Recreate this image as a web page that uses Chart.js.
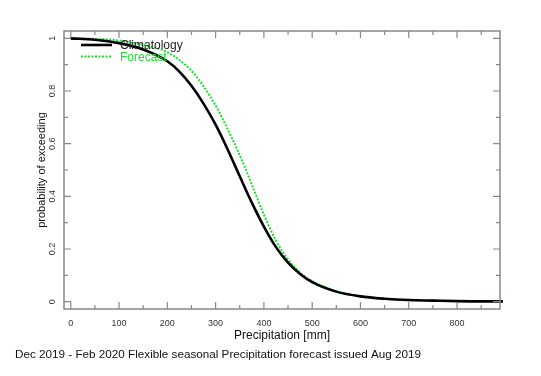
<!DOCTYPE html>
<html lang="en">
<head>
    <meta charset="UTF-8">
    <title>Probability of exceeding</title>
    <script src="https://cdn.jsdelivr.net/npm/chart.js"></script>
    <style>
        html, body {
            margin: 0;
            padding: 0;
            background: #ffffff;
        }
        canvas {
            display: block;
        }
    </style>
</head>
<body>

<canvas id="myChart" width="541" height="376"></canvas>

<script>
    // precipitation (mm)
    const precip = [0, 50, 100, 150, 200, 225, 250, 275, 300, 325, 350, 375, 400, 425, 450, 475, 500, 550, 600, 650, 700, 750, 800, 850, 895];
    const climatology = [1.0, 0.995, 0.982, 0.958, 0.913, 0.874, 0.820, 0.752, 0.672, 0.578, 0.476, 0.376, 0.285, 0.207, 0.148, 0.105, 0.074, 0.038, 0.020, 0.011, 0.006, 0.004, 0.002, 0.001, 0.001];
    const forecast = [1.0, 0.998, 0.992, 0.975, 0.948, 0.918, 0.877, 0.818, 0.745, 0.655, 0.556, 0.445, 0.330, 0.232, 0.160, 0.110, 0.078, 0.039, 0.020, 0.011, 0.006, 0.004, 0.002, 0.001, 0.001];

    // ticks
    const xTicks = [0, 100, 200, 300, 400, 500, 600, 700, 800];
    const xMinor = [50, 150, 250, 350, 450, 550, 650, 750, 850];
    const yTicks = [0, 0.2, 0.4, 0.6, 0.8, 1];
    const yMinor = [0.1, 0.3, 0.5, 0.7, 0.9];

    const caption = 'Dec 2019 - Feb 2020 Flexible seasonal Precipitation forecast issued Aug 2019';
    const frameColor = '#888888';
    const green = '#19e02a';

    // frame, inward ticks, rotated y labels and the legend inside the plot
    const framePlugin = {
        id: 'framePlugin',
        afterDatasetsDraw(chart) {
            const ctx = chart.ctx;
            const a = chart.chartArea;
            const xs = chart.scales.x;
            const ys = chart.scales.y;
            ctx.save();
            ctx.strokeStyle = frameColor;
            ctx.lineWidth = 1.5;
            ctx.strokeRect(a.left, a.top, a.right - a.left, a.bottom - a.top);

            ctx.lineWidth = 1.2;
            ctx.beginPath();
            const tickX = (v, len) => {
                const px = xs.getPixelForValue(v);
                ctx.moveTo(px, a.bottom); ctx.lineTo(px, a.bottom - len);
                ctx.moveTo(px, a.top); ctx.lineTo(px, a.top + len);
            };
            const tickY = (v, len) => {
                const py = ys.getPixelForValue(v);
                ctx.moveTo(a.left, py); ctx.lineTo(a.left + len, py);
                ctx.moveTo(a.right, py); ctx.lineTo(a.right - len, py);
            };
            xTicks.forEach(v => tickX(v, 7));
            xMinor.forEach(v => tickX(v, 4));
            yTicks.forEach(v => tickY(v, 7));
            yMinor.forEach(v => tickY(v, 4));
            ctx.stroke();

            // y tick labels, reading upwards
            ctx.fillStyle = '#333333';
            ctx.font = '9px "Liberation Sans", Arial, sans-serif';
            ctx.textAlign = 'center';
            ctx.textBaseline = 'middle';
            yTicks.forEach(v => {
                ctx.save();
                ctx.translate(a.left - 11, ys.getPixelForValue(v));
                ctx.rotate(-Math.PI / 2);
                ctx.fillText(String(v), 0, 0);
                ctx.restore();
            });

            // legend
            ctx.font = '12px "Liberation Sans", Arial, sans-serif';
            ctx.textAlign = 'left';
            chart.data.datasets.forEach((ds, i) => {
                const y = a.top + 14 + i * 11.5;
                ctx.beginPath();
                ctx.strokeStyle = ds.borderColor;
                ctx.lineWidth = ds.borderWidth;
                ctx.setLineDash(ds.borderDash || []);
                ctx.moveTo(a.left + 17, y);
                ctx.lineTo(a.left + 48, y);
                ctx.stroke();
                ctx.setLineDash([]);
                ctx.fillStyle = i === 0 ? '#222222' : green;
                ctx.fillText(ds.label, a.left + 56, y + 1);
            });
            ctx.restore();
        }
    };

    const ctx = document.getElementById('myChart').getContext('2d');
    const myChart = new Chart(ctx, {
        type: 'line',
        data: {
            datasets: [
                {
                    label: 'Climatology',
                    data: precip.map((x, i) => ({ x: x, y: climatology[i] })),
                    borderColor: '#000000',
                    borderWidth: 2.6,
                    pointRadius: 0,
                    cubicInterpolationMode: 'monotone',
                    clip: false
                },
                {
                    label: 'Forecast',
                    data: precip.map((x, i) => ({ x: x, y: forecast[i] })),
                    borderColor: green,
                    borderWidth: 2,
                    borderDash: [2, 1.5],
                    pointRadius: 0,
                    cubicInterpolationMode: 'monotone',
                    clip: false
                }
            ]
        },
        options: {
            responsive: false,
            animation: false,
            devicePixelRatio: 1,
            layout: {
                padding: { left: 15, right: 41, top: 31, bottom: 10.96 }
            },
            scales: {
                x: {
                    type: 'linear',
                    min: -14,
                    max: 889,
                    afterBuildTicks: s => { s.ticks = xTicks.map(v => ({ value: v })); },
                    afterFit: s => { s.height = 34; },
                    grid: { display: false },
                    border: { display: false },
                    ticks: {
                        color: '#333333',
                        font: { family: '"Liberation Sans", Arial, sans-serif', size: 9 },
                        padding: 1,
                        maxRotation: 0,
                        autoSkip: false
                    },
                    title: {
                        display: true,
                        text: 'Precipitation [mm]',
                        color: '#111111',
                        font: { family: '"Liberation Sans", Arial, sans-serif', size: 12 },
                        padding: { top: 0, bottom: 0.5 }
                    }
                },
                y: {
                    min: -0.028,
                    max: 1.028,
                    afterBuildTicks: s => { s.ticks = yTicks.map(v => ({ value: v })); },
                    afterFit: s => { s.width = 49; },
                    grid: { display: false },
                    border: { display: false },
                    ticks: { display: false },
                    title: {
                        display: true,
                        text: 'probability of exceeding',
                        color: '#111111',
                        font: { family: '"Liberation Sans", Arial, sans-serif', size: 11 },
                        padding: { top: 19.9, bottom: 0 }
                    }
                }
            },
            plugins: {
                legend: { display: false },
                tooltip: { enabled: false },
                title: {
                    display: true,
                    text: caption,
                    position: 'bottom',
                    align: 'start',
                    color: '#111111',
                    font: { family: '"Liberation Sans", Arial, sans-serif', size: 11.7, weight: 'normal' },
                    padding: { top: 5, bottom: 3 }
                }
            }
        },
        plugins: [framePlugin]
    });
</script>

</body>
</html>
